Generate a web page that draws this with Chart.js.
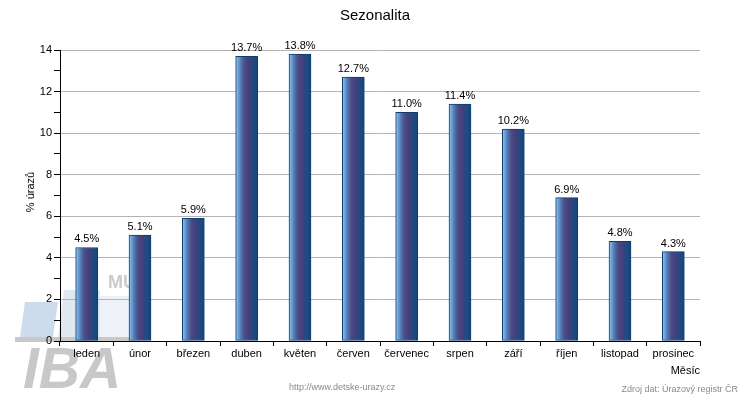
<!DOCTYPE html>
<html><head><meta charset="utf-8">
<script src="https://cdn.jsdelivr.net/npm/chart.js@4/dist/chart.umd.min.js"></script>
<style>html,body{margin:0;padding:0;background:#fff}canvas{display:block}</style>
</head><body>
<canvas id="c" width="750" height="400"></canvas>
<script>
const months = ['leden','únor','březen','duben','květen','červen','červenec','srpen','září','říjen','listopad','prosinec'];
const values = [4.5, 5.1, 5.9, 13.7, 13.8, 12.7, 11.0, 11.4, 10.2, 6.9, 4.8, 4.3];
const yMin = 0, yMax = 14, yMajorStep = 2, yMinorStep = 1;
const chartTitle = 'Sezonalita';
const yTitle = '% úrazů';
const xTitle = 'Měsíc';
const footerLeft = 'http://www.detske-urazy.cz';
const footerRight = 'Zdroj dat: Úrazový registr ČR';

const FONT = '"Liberation Sans", Arial, sans-serif';
const BAR_W = 22;

function barGradient(ctx) {
  const chart = ctx.chart;
  const xs = chart.scales && chart.scales.x;
  if (!xs || !chart.chartArea || ctx.dataIndex === undefined) return '#4a4a82';
  const cx = xs.getPixelForValue(ctx.dataIndex);
  if (!isFinite(cx)) return '#4a4a82';
  const x0 = cx - BAR_W / 2, x1 = cx + BAR_W / 2;
  const g = chart.ctx.createLinearGradient(x0, 0, x1, 0);
  g.addColorStop(0, '#9ccaf0');
  g.addColorStop(0.1, '#6fa6da');
  g.addColorStop(0.25, '#4f74b0');
  g.addColorStop(0.42, '#4a4a82');
  g.addColorStop(0.62, '#423f7c');
  g.addColorStop(0.82, '#1f4a80');
  g.addColorStop(1, '#0a4b7e');
  return g;
}

const watermark = {
  id: 'watermark',
  beforeDraw(chart) {
    const c = chart.ctx;
    c.save();
    c.fillStyle = '#cddcec';
    c.beginPath(); c.moveTo(25,302); c.lineTo(58,302); c.lineTo(53,337); c.lineTo(20,337); c.closePath(); c.fill();
    c.fillStyle = '#e0e8f2';
    c.beginPath(); c.moveTo(64,290); c.lineTo(100,290); c.lineTo(100,337); c.lineTo(58,337); c.closePath(); c.fill();
    c.fillStyle = '#eef2f8';
    c.beginPath(); c.moveTo(100,296); c.lineTo(131,296); c.lineTo(131,337); c.lineTo(100,337); c.closePath(); c.fill();
    c.fillStyle = '#c8c8c8';
    c.fillRect(15, 337, 115, 5);
    c.fillStyle = '#cbcbcb';
    c.font = 'bold 18px ' + FONT;
    c.textBaseline = 'alphabetic';
    c.fillText('MU', 108, 288);
    c.font = 'italic bold 57px ' + FONT;
    c.fillStyle = '#c8c8c8';
    c.fillText('IBA', 23, 388);
    c.restore();
  }
};

const texts = {
  id: 'texts',
  afterDatasetsDraw(chart) {
    const c = chart.ctx;
    const meta = chart.getDatasetMeta(0);
    c.save();
    c.fillStyle = '#000';
    c.font = '11px ' + FONT;
    c.textAlign = 'center';
    c.textBaseline = 'alphabetic';
    meta.data.forEach((bar, i) => {
      c.fillText(values[i].toFixed(1) + '%', bar.x, bar.y - 5);
    });
    c.restore();
  },
  afterDraw(chart) {
    const c = chart.ctx;
    c.save();
    c.fillStyle = '#000';
    c.textBaseline = 'alphabetic';
    c.font = '15px ' + FONT;
    c.textAlign = 'center';
    c.fillText(chartTitle, 375, 20);
    c.font = '11px ' + FONT;
    c.textAlign = 'right';
    c.fillText(xTitle, 700, 374);
    c.save();
    c.translate(34, 192);
    c.rotate(-Math.PI / 2);
    c.textAlign = 'center';
    c.fillText(yTitle, 0, 0);
    c.restore();
    c.fillStyle = '#8a8a8a';
    c.font = '9px ' + FONT;
    c.textAlign = 'left';
    c.fillText(footerLeft, 289, 390);
    c.textAlign = 'right';
    c.fillText(footerRight, 738, 392);
    c.restore();
  }
};

new Chart(document.getElementById('c'), {
  type: 'bar',
  data: {
    labels: months,
    datasets: [{
      data: values,
      backgroundColor: barGradient,
      borderColor: '#0d3d6e',
      borderWidth: 1,
      borderSkipped: false,
      barThickness: BAR_W
    }]
  },
  options: {
    responsive: false,
    devicePixelRatio: 1,
    animation: false,
    layout: { padding: { left: 0, right: 50, top: 50, bottom: 39 } },
    plugins: { legend: { display: false }, title: { display: false }, tooltip: { enabled: false } },
    scales: {
      x: {
        afterFit(s) { s.height = 20; },
        grid: { drawOnChartArea: false, offset: true, tickLength: 5, tickColor: '#000', lineWidth: 1 },
        border: { display: true, color: '#000', width: 1 },
        ticks: { color: '#000', font: { family: FONT, size: 11 }, padding: 1, maxRotation: 0, autoSkip: false }
      },
      y: {
        min: yMin, max: yMax,
        afterFit(s) { s.width = 60; },
        grid: {
          color: (ctx) => (ctx.tick && ctx.tick.value % yMajorStep === 0) ? '#b4b4b4' : 'rgba(0,0,0,0)',
          tickColor: '#000', tickLength: 6, lineWidth: 1
        },
        border: { display: true, color: '#000', width: 1 },
        ticks: {
          stepSize: yMinorStep,
          color: '#000', font: { family: FONT, size: 11 }, padding: 2,
          callback: (v) => (v % yMajorStep === 0 ? String(v) : '')
        }
      }
    }
  },
  plugins: [watermark, texts]
});
</script>
</body></html>
